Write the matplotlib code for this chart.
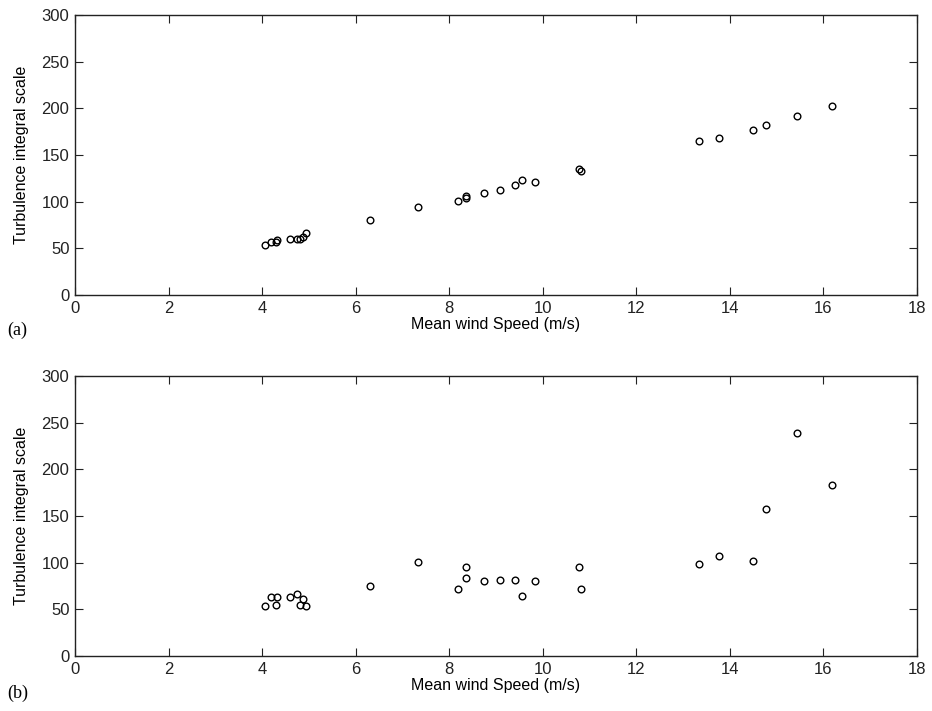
import matplotlib
matplotlib.use("Agg")
import matplotlib.pyplot as plt

# Mean wind speed (m/s) for each record
wind_speed = [4.06, 4.20, 4.30, 4.33, 4.59, 4.75, 4.82, 4.88, 4.94,
              6.30, 7.33, 8.19, 8.37, 8.37, 8.74, 9.10, 9.40, 9.55, 9.83,
              10.77, 10.83, 13.35, 13.77, 14.50, 14.78, 15.44, 16.20]

# Turbulence integral scale, panel (a)
scale_a = [54, 57, 57, 59, 60, 60, 60, 62, 66,
           80, 94, 101, 104, 106, 109, 112, 118, 123, 121,
           135, 133, 165, 168, 177, 182, 192, 203]

# Turbulence integral scale, panel (b)
scale_b = [54, 63, 55, 63, 63, 66, 55, 61, 54,
           75, 101, 72, 95, 83, 80, 81, 81, 64, 80,
           95, 72, 98, 107, 102, 157, 239, 183]

panels = [("(a)", scale_a, -0.125), ("(b)", scale_b, -0.135)]

plt.rcParams['font.family'] = ['Liberation Sans', 'DejaVu Sans']

fig = plt.figure(figsize=(9.32, 7.11), dpi=100)
boxes = [[0.0805, 0.585, 0.903, 0.394], [0.0805, 0.0774, 0.903, 0.394]]

for box, (tag, values, tag_y) in zip(boxes, panels):
    ax = fig.add_axes(box)
    ax.plot(wind_speed, values, linestyle='none', marker='o', markersize=4.8,
            markerfacecolor='none', markeredgecolor='black', markeredgewidth=1.0)
    ax.set_xlim(0, 18)
    ax.set_ylim(0, 300)
    ax.set_xticks(range(0, 19, 2))
    ax.set_yticks(range(0, 301, 50))
    ax.tick_params(direction='in', top=True, right=True, length=6,
                   width=0.8, labelsize=12, colors='#222222', pad=4)
    for s in ax.spines.values():
        s.set_linewidth(1.0)
        s.set_color('#222222')
    ax.set_xlabel('Mean wind Speed (m/s)', fontsize=11.5, labelpad=1)
    ax.set_ylabel('Turbulence integral scale', fontsize=11.5, labelpad=9)
    ax.text(-0.081, tag_y, tag, transform=ax.transAxes, fontsize=13,
            family='Liberation Serif', ha='left', va='center')

fig.savefig('out.png', dpi=100)
